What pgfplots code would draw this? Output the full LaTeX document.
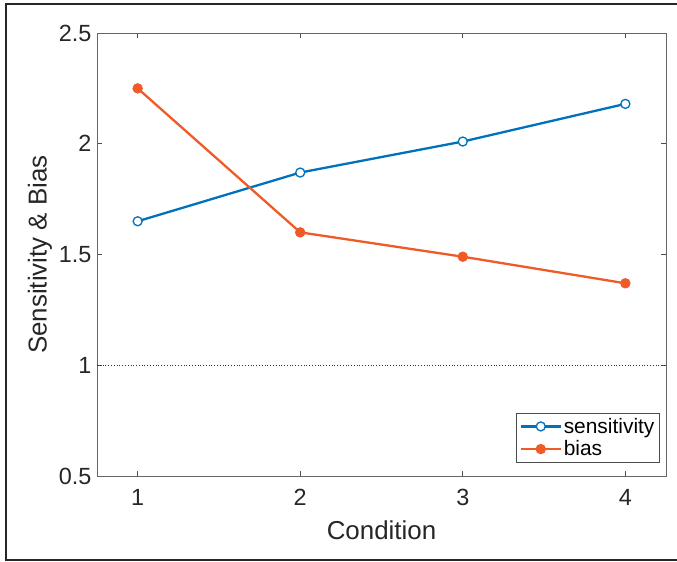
\documentclass[border=0pt]{standalone}
\usepackage{pgfplots}
\pgfplotsset{compat=1.18}
\usepackage{fontspec}
\setmainfont{Liberation Sans}
\definecolor{mblue}{RGB}{0,114,189}
\definecolor{morange}{RGB}{240,90,40}
\begin{document}
\begin{tikzpicture}
\useasboundingbox (-97bp,-86bp) rectangle (580bp,476bp);
\draw[line width=2.2bp,black!85] (585bp,-84bp) -- (-91bp,-84bp) -- (-91bp,472bp) -- (585bp,472bp);
\begin{axis}[
  at={(0,0)}, anchor=south west,
  scale only axis, width=569bp, height=443bp,
  xmin=0.75, xmax=4.25, ymin=0.5, ymax=2.5,
  xtick={1,2,3,4}, ytick={0.5,1,1.5,2,2.5},
  yticklabels={0.5,1,1.5,2,2.5},
  /pgf/number format/assume math mode=true,
  tick align=inside, major tick length=5bp,
  tick style={black!70, line width=0.6bp},
  axis line style={black!60, line width=0.8bp},
  ticklabel style={font=\fontsize{23.5}{27}\selectfont, text=black!85},
  xticklabel style={yshift=-10bp},
  yticklabel style={xshift=-2bp},
  xlabel={Condition}, ylabel={Sensitivity \& Bias},
  label style={font=\fontsize{26}{30}\selectfont, text=black!85},
  xlabel style={yshift=-8bp},
  ylabel style={yshift=0bp},
  legend style={at={(rel axis cs:0.989,0.03)}, anchor=south east,
    draw=black!70, line width=0.6bp, font=\fontsize{21}{24}\selectfont,
    inner sep=3bp, row sep=2bp, cells={anchor=west}},
  legend cell align=left,
  legend image code/.code={\draw[mark repeat=2,mark phase=2,#1] plot coordinates {(0cm,0cm) (0.7cm,0cm) (1.4cm,0cm)};},
]
\addplot[black!80, dotted, line width=0.8bp, forget plot] coordinates {(0.75,1) (4.25,1)};
\addplot[mblue, line width=2.3bp, mark=*, mark size=4.5bp,
  mark options={fill=white, line width=1.3bp}] coordinates {
  (1,1.65) (2,1.87) (3,2.01) (4,2.18)};
\addlegendentry{sensitivity}
\addplot[morange, line width=2.3bp, mark=*, mark size=4bp,
  mark options={fill=morange}] coordinates {
  (1,2.25) (2,1.60) (3,1.49) (4,1.37)};
\addlegendentry{bias}
\end{axis}
\end{tikzpicture}
\end{document}
